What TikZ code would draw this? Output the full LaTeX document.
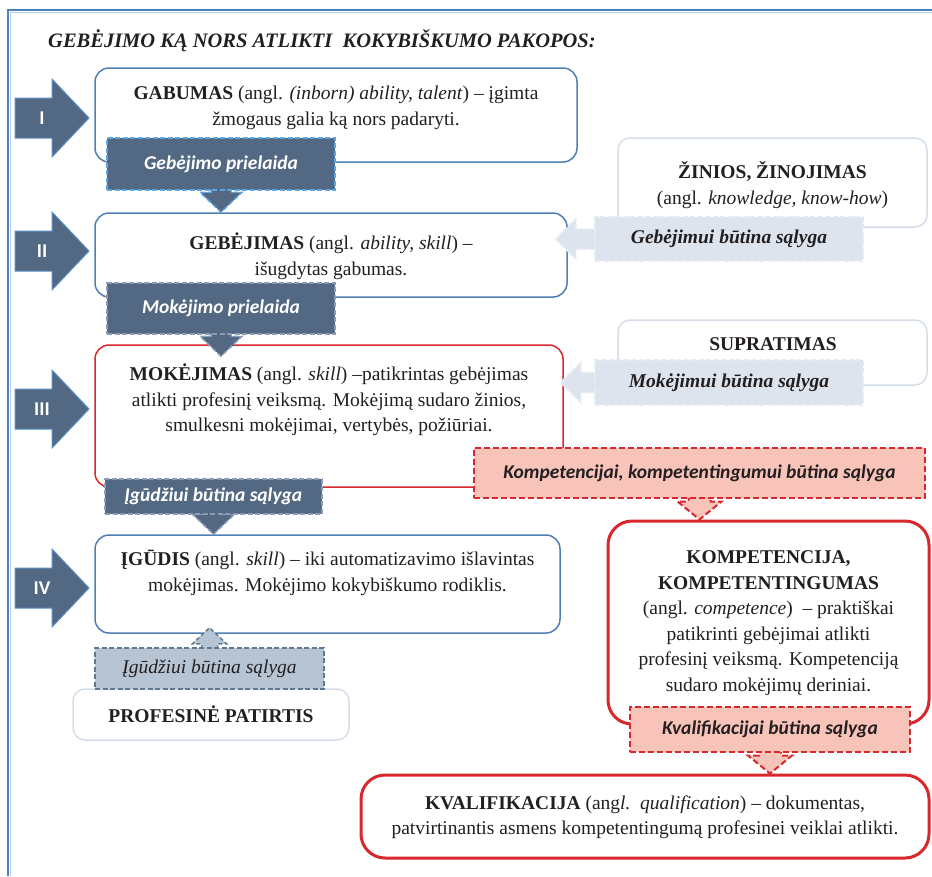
\documentclass[tikz,border=0pt]{standalone}
\usepackage{fontspec}
\setmainfont{Liberation Serif}
\newfontfamily\calfont{Carlito}
\usetikzlibrary{calc}
\definecolor{textc}{HTML}{231F20}
\definecolor{slate}{HTML}{536882}
\definecolor{boxblue}{HTML}{4F7FB4}
\definecolor{lonebord}{HTML}{5AA5E6}
\definecolor{ltwobord}{HTML}{8A9DB5}
\definecolor{redc}{HTML}{D9272E}
\definecolor{pinkc}{HTML}{F8C3B8}
\definecolor{lightbord}{HTML}{D5DDE8}
\definecolor{lightlab}{HTML}{DDE4ED}
\definecolor{lightlabbord}{HTML}{E6EBF1}
\definecolor{uplab}{HTML}{B7C4D4}
\definecolor{upbord}{HTML}{5F7893}
\definecolor{framec}{HTML}{4F81BD}
\definecolor{romanbord}{HTML}{5B8FC9}
\pgfdeclarelayer{bg}
\pgfdeclarelayer{mid}
\pgfsetlayers{bg,mid,main}
\newcommand{\blockarrow}[6][]{%
  \coordinate (bah) at ($(#3)!#6!(#2)$);
  \path[#1] ($(#2)!#4!90:(#3)$) -- ($(bah)!#4!90:(#3)$) -- ($(bah)!#5!90:(#3)$) -- (#3)
    -- ($(bah)!#5!-90:(#3)$) -- ($(bah)!#4!-90:(#3)$) -- ($(#2)!#4!-90:(#3)$) -- cycle;}
\tikzset{
  txt/.style={font=\fontsize{19.5}{25.5}\selectfont, align=center, text=textc, inner sep=0pt},
  boxbase/.style={fill=white, inner sep=0pt, rounded corners=14pt},
  bluebox/.style={boxbase, draw=boxblue, line width=1.5pt},
  redbox/.style={boxbase, draw=redc, line width=1.5pt},
  redthick/.style={boxbase, draw=redc, line width=3pt, rounded corners=24pt},
  lightbox/.style={boxbase, draw=lightbord, line width=1.5pt, rounded corners=12pt},
  labbase/.style={inner sep=0pt, line width=1.5pt, dash pattern=on 5pt off 2.5pt},
  darklab/.style={labbase, fill=slate, text=white, font=\calfont\bfseries\itshape\fontsize{19.5}{22}\selectfont},
  pinklab/.style={labbase, fill=pinkc, draw=redc, text=textc, line width=2pt, dash pattern=on 6pt off 3pt, font=\calfont\bfseries\itshape\fontsize{19.5}{22}\selectfont},
  lightlabel/.style={labbase, fill=lightlab, draw=lightlabbord, text=textc, font=\bfseries\itshape\fontsize{19.5}{22}\selectfont},
  uplabel/.style={labbase, fill=uplab, draw=upbord, text=textc, font=\itshape\fontsize{19.5}{22}\selectfont},
  romanarrow/.style={fill=slate, draw=romanbord, line width=1pt},
  romantxt/.style={text=white, font=\calfont\bfseries\fontsize{19.5}{22}\selectfont, inner sep=0pt},
  darkarrow/.style={fill=slate, draw=#1, line width=1.5pt, dash pattern=on 5pt off 2.5pt},
  pinkarrow/.style={fill=pinkc, draw=redc, line width=2pt, dash pattern=on 6pt off 3pt},
  lightarrow/.style={fill=lightlab, draw=lightlabbord, line width=1.5pt, dash pattern=on 5pt off 2.5pt},
  uparrow/.style={fill=uplab, draw=upbord, line width=1.5pt, dash pattern=on 4pt off 2.5pt},
}
\begin{document}
\begin{tikzpicture}[x=1pt,y=-1pt]
\useasboundingbox (0,0) rectangle (932,876);
% frame
\draw[framec, line width=2.5pt] (8,876) -- (8,10) -- (932,10);
\draw[framec!40, line width=0.8pt] (10.5,876) -- (10.5,12.5) -- (932,12.5);
% title
\node[anchor=west, inner sep=0pt, text=textc, font=\bfseries\itshape\fontsize{20.5}{22}\selectfont] (title) at (48,41) {GEBĖJIMO KĄ NORS ATLIKTI\ \ KOKYBIŠKUMO PAKOPOS:};
% boxes
\begin{pgfonlayer}{bg}
\node[bluebox, minimum width=482pt, minimum height=94pt] (gab) at (336,115) {};
\node[bluebox, minimum width=472pt, minimum height=84pt] (geb) at (331,255) {};
\node[redbox, minimum width=468pt, minimum height=142pt] (mok) at (329,416) {};
\node[bluebox, minimum width=465pt, minimum height=98pt] (igu) at (327.5,584) {};
\node[lightbox, minimum width=276pt, minimum height=51pt] (prof) at (211,714.5) {};
\node[lightbox, minimum width=309pt, minimum height=89pt] (zin) at (772.5,182.5) {};
\node[lightbox, minimum width=309pt, minimum height=65pt] (sup) at (772.5,352.5) {};
\node[redthick, minimum width=321pt, minimum height=203pt] (komp) at (768.5,622.5) {};
\node[redthick, minimum width=568pt, minimum height=83pt] (kval) at (645,816.5) {};
\end{pgfonlayer}
% box texts
\node[txt] (gabt) at (336,108) {\textbf{GABUMAS} (angl. \textit{(inborn) ability, talent}) – įgimta\\žmogaus galia ką nors padaryti.};
\node[txt] (gebt) at (331,256) {\textbf{GEBĖJIMAS} (angl. \textit{ability, skill}) –\\išugdytas gabumas.};
\node[txt] (mokt) at (329,400) {\textbf{MOKĖJIMAS} (angl. \textit{skill}) –patikrintas gebėjimas\\atlikti profesinį veiksmą. Mokėjimą sudaro žinios,\\smulkesni mokėjimai, vertybės, požiūriai.};
\node[txt] (igut) at (327.5,573) {\textbf{ĮGŪDIS} (angl. \textit{skill}) – iki automatizavimo išlavintas\\mokėjimas. Mokėjimo kokybiškumo rodiklis.};
\node[txt] (proft) at (211,714) {\textbf{PROFESINĖ PATIRTIS}};
\node[txt] (zint) at (772.5,185) {\textbf{ŽINIOS, ŽINOJIMAS}\\(angl. \textit{knowledge, know-how})};
\node[txt] (supt) at (773,344) {\textbf{SUPRATIMAS}};
\node[txt] (kompt) at (768.5,623) {\textbf{KOMPETENCIJA,}\\\textbf{KOMPETENTINGUMAS}\\(angl. \textit{competence})\ \ – praktiškai\\patikrinti gebėjimai atlikti\\profesinį veiksmą. Kompetenciją\\sudaro mokėjimų deriniai.};
\node[txt] (kvalt) at (645,817) {\textbf{KVALIFIKACIJA} (ang\textit{l.}\ \ \textit{qualification}) – dokumentas,\\patvirtinantis asmens kompetentingumą profesinei veiklai atlikti.};
% labels
\node[darklab, draw=lonebord, minimum width=228pt, minimum height=52pt] (l1) at (221,164) {Gebėjimo prielaida};
\node[darklab, draw=ltwobord, minimum width=228pt, minimum height=51pt] (l2) at (221,308.5) {Mokėjimo prielaida};
\node[darklab, draw=ltwobord, minimum width=217pt, minimum height=35pt] (l3) at (213.5,496.5) {Įgūdžiui būtina sąlyga};
\node[uplabel, minimum width=229pt, minimum height=41pt] (l4) at (209.5,668.5) {Įgūdžiui būtina sąlyga};
\node[lightlabel, minimum width=268pt, minimum height=44pt] (lgeb) at (729,239) {Gebėjimui būtina sąlyga};
\node[lightlabel, minimum width=268pt, minimum height=45pt] (lmok) at (729,382.5) {Mokėjimui būtina sąlyga};
\node[pinklab, minimum width=451pt, minimum height=50pt] (lkomp) at (699.5,473) {Kompetencijai, kompetentingumui būtina sąlyga};
\node[pinklab, minimum width=280pt, minimum height=45pt] (lkval) at (770,729.5) {Kvalifikacijai būtina sąlyga};
% roman arrows
\coordinate (r1a) at (15,118); \coordinate (r1b) at (89,118);
\coordinate (r2a) at (15,251); \coordinate (r2b) at (89,251);
\coordinate (r3a) at (15,409); \coordinate (r3b) at (89,409);
\coordinate (r4a) at (15,588); \coordinate (r4b) at (89,588);
\blockarrow[romanarrow]{r1a}{r1b}{20pt}{39pt}{37pt}
\blockarrow[romanarrow]{r2a}{r2b}{20pt}{39pt}{37pt}
\blockarrow[romanarrow]{r3a}{r3b}{20pt}{39pt}{37pt}
\blockarrow[romanarrow]{r4a}{r4b}{20pt}{39pt}{37pt}
\node[romantxt] (n1) at (42,118) {I};
\node[romantxt] (n2) at (42,251) {II};
\node[romantxt] (n3) at (42,409) {III};
\node[romantxt] (n4) at (42,588) {IV};
% connector arrows
\coordinate (t1) at (l1.center |- geb.north);
\coordinate (t2) at ($(l2.center |- mok.north)+(0,12)$);
\coordinate (t3) at (l3.center |- igu.north);
\coordinate (t4) at ($(l4.center |- igu.south)+(0,-6)$);
\coordinate (t5) at ($(lgeb.center -| geb.east)+(-12,0)$);
\coordinate (t6) at ($(lmok.center -| mok.east)+(-3,0)$);
\coordinate (t7) at (lkomp.center |- komp.north);
\coordinate (t8) at (lkval.center |- kval.north);
\begin{pgfonlayer}{mid}
\blockarrow[darkarrow=lonebord]{l1.center}{t1}{10pt}{21pt}{20pt}
\blockarrow[darkarrow=ltwobord]{l2.center}{t2}{10pt}{21pt}{20pt}
\blockarrow[darkarrow=ltwobord]{l3.center}{t3}{10pt}{21pt}{20pt}
\blockarrow[uparrow]{l4.center}{t4}{8pt}{17pt}{16pt}
\blockarrow[lightarrow]{lgeb.center}{t5}{10pt}{20pt}{20pt}
\blockarrow[lightarrow]{lmok.center}{t6}{10pt}{20pt}{20pt}
\blockarrow[pinkarrow]{lkomp.center}{t7}{11pt}{22pt}{18pt}
\blockarrow[pinkarrow]{lkval.center}{t8}{11pt}{22pt}{18pt}
\end{pgfonlayer}
\end{tikzpicture}
\end{document}
